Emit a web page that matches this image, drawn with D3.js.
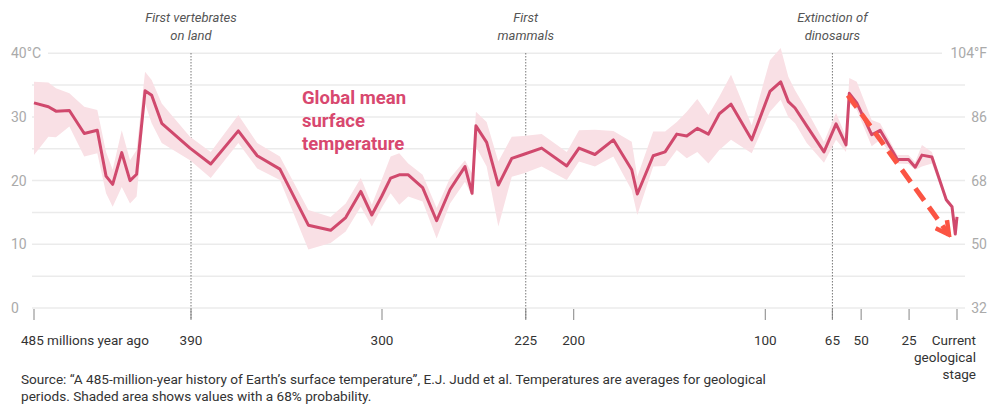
<!DOCTYPE html>
<html lang="en">
  <head>
    <meta charset="UTF-8" />
    <title>Global mean surface temperature</title>
    <script src="https://cdn.jsdelivr.net/npm/d3@7"></script>
    <style>
      body {
        margin: 0;
        padding: 0;
        background: #fff;
        font-family: Roboto, "Open Sans", sans-serif;
      }
      .grid line {
        stroke: #ebebeb;
        stroke-width: 1.5;
      }
      .ylab {
        fill: #aaa;
        font-size: 14px;
      }
      .xlab {
        fill: #333;
        font-size: 13.5px;
      }
      .event {
        fill: #555;
        font-size: 13px;
        font-style: italic;
      }
      .source {
        fill: #333;
        font-size: 13.6px;
      }
    </style>
  </head>
  <body>
    <svg id="chart"></svg>
    <script>
      // millions of years ago, one value per geological stage
      const ages = [
        485, 476.3, 471.7, 463.6, 454.6, 446.7, 441.4, 437.4, 431.9, 426.9,
        422.9, 417.8, 413.8, 407.7, 390.6, 380.7, 367.7, 358.8, 348.1, 334.7,
        324.2, 317.1, 310, 304.8, 300.2, 295.5, 291, 286.3, 278.8, 271.5,
        264.5, 256.7, 253, 251, 245.4, 239.3, 232.3, 226.3, 216.7, 203.6,
        197.2, 188.9, 179.3, 169.7, 166.8, 158.5, 152.3, 146.2, 141, 135.5,
        129.7, 124, 117.9, 107.1, 97.6, 92, 88, 84.5, 78.4, 69.4,
        63.1, 57.9, 56.2, 52.3, 44.5, 40.1, 31.1, 25.3, 21.8, 18.3,
        13.1, 5.6, 2.6, 0.9, 0
      ];
      // mean temperature, °C
      const temps = [
        32.2, 31.6, 30.9, 31.0, 27.4, 27.9, 20.7, 19.4, 24.4, 20.0,
        21.0, 34.1, 33.4, 29.0, 25.1, 22.6, 27.8, 23.9, 21.8, 13.0,
        12.2, 14.2, 18.3, 14.6, 17.5, 20.4, 20.9, 20.9, 18.9, 13.7,
        18.6, 22.2, 18.0, 28.6, 26.0, 19.3, 23.5, 24.1, 25.1, 22.3,
        25.1, 24.1, 26.4, 21.7, 17.9, 23.9, 24.5, 27.3, 27.0, 28.2,
        27.3, 30.5, 32.0, 26.4, 34.0, 35.5, 32.4, 31.4, 28.6, 24.5,
        28.9, 25.6, 33.7, 32.2, 27.2, 27.9, 23.3, 23.3, 22.1, 24.0,
        23.7, 17.0, 15.9, 11.6, 14.3
      ];
      // 68% range, °C
      const tempLow = [
        24.0, 26.9, 26.8, 28.5, 23.8, 24.3, 18.0, 15.9, 19.0, 16.4,
        17.5, 32.1, 29.0, 25.9, 23.2, 20.4, 25.9, 21.9, 20.1, 9.2,
        10.2, 12.0, 15.9, 12.8, 15.7, 18.0, 16.2, 17.5, 16.7, 10.9,
        16.4, 19.8, 17.5, 25.3, 22.2, 12.8, 20.6, 21.1, 22.2, 20.1,
        23.0, 22.2, 23.8, 18.5, 14.6, 22.2, 22.3, 24.8, 23.5, 24.5,
        22.7, 24.8, 26.4, 24.3, 30.8, 32.7, 30.0, 29.0, 25.9, 22.8,
        26.4, 24.5, 32.1, 31.1, 25.4, 26.4, 22.7, 22.6, 21.7, 22.2,
        22.7, 16.6, 15.7, 11.3, 14.0
      ];
      const tempHigh = [
        35.5, 35.4, 34.5, 33.7, 31.6, 31.1, 24.5, 21.7, 27.9, 23.2,
        24.8, 37.1, 35.8, 32.1, 26.9, 24.5, 30.3, 25.9, 23.8, 15.4,
        14.3, 16.4, 20.4, 16.2, 20.1, 23.8, 24.3, 22.7, 20.9, 15.7,
        20.4, 23.2, 21.1, 30.8, 29.2, 23.0, 26.9, 27.0, 27.3, 24.5,
        27.9, 28.0, 27.8, 26.1, 20.6, 27.7, 27.7, 29.2, 30.8, 32.8,
        30.3, 33.2, 36.6, 28.7, 38.9, 40.8, 36.3, 34.2, 31.1, 26.1,
        30.6, 26.9, 36.1, 35.5, 29.5, 29.0, 24.0, 24.0, 22.9, 25.6,
        24.5, 17.3, 16.2, 11.9, 14.6
      ];

      const xTicks = [485, 390, 300, 225, 200, 100, 65, 50, 25, 0];
      const xTickLabels = ["485 millions year ago", "390", "300", "225", "200", "100", "65", "50", "25", "Current"];
      const yTicksC = [0, 10, 20, 30, 40];
      const yLabelsC = ["0", "10", "20", "30", "40°C"];
      const yLabelsF = ["32", "50", "68", "86", "104°F"];

      const eventAges = [390, 225, 65];
      const eventLabels = [
        ["First vertebrates", "on land"],
        ["First", "mammals"],
        ["Extinction of", "dinosaurs"]
      ];

      // cooling trend arrow, [age, °C]
      const arrowFrom = [56.9, 33.4];
      const arrowTo = [4.2, 11.5];

      const width = 989;
      const height = 405;

      const svg = d3.select("#chart").attr("width", width).attr("height", height);

      // the original axis is not quite linear before 300 Ma
      const x = d3.scaleLinear().domain([485, 390, 300, 0]).range([34, 191, 382, 957]);
      const y = d3.scaleLinear().domain([0, 40]).range([308, 53.2]);

      const data = ages.map((a, i) => ({ age: a, t: temps[i], lo: tempLow[i], hi: tempHigh[i] }));

      // gridlines every 5 degrees
      const grid = svg.append("g").attr("class", "grid");
      grid
        .selectAll("line")
        .data(d3.range(0, 41, 5))
        .enter()
        .append("line")
        .attr("x1", (d) => (d == 40 ? 48 : 32))
        .attr("x2", (d) => (d == 40 ? 942 : 965))
        .attr("y1", (d) => y(d))
        .attr("y2", (d) => y(d));

      svg
        .selectAll(".ylabL")
        .data(yTicksC)
        .enter()
        .append("text")
        .attr("class", "ylab")
        .attr("x", 11)
        .attr("y", (d) => y(d))
        .attr("dy", "0.35em")
        .text((d, i) => yLabelsC[i]);

      svg
        .selectAll(".ylabR")
        .data(yTicksC)
        .enter()
        .append("text")
        .attr("class", "ylab")
        .attr("x", 987)
        .attr("y", (d) => y(d))
        .attr("dy", "0.35em")
        .attr("text-anchor", "end")
        .text((d, i) => yLabelsF[i]);

      // x ticks
      svg
        .selectAll(".xtick")
        .data(xTicks)
        .enter()
        .append("line")
        .attr("x1", (d) => x(d))
        .attr("x2", (d) => x(d))
        .attr("y1", 309)
        .attr("y2", 320)
        .attr("stroke", "#999")
        .attr("stroke-width", 1.2);

      svg
        .selectAll(".xlab")
        .data(xTicks)
        .enter()
        .append("text")
        .attr("class", "xlab")
        .attr("x", (d, i) => (i == 0 ? 21 : i == xTicks.length - 1 ? 976 : x(d)))
        .attr("y", 345)
        .attr("text-anchor", (d, i) => (i == 0 ? "start" : i == xTicks.length - 1 ? "end" : "middle"))
        .text((d, i) => xTickLabels[i]);

      const cur = svg.append("text").attr("class", "xlab").attr("text-anchor", "end");
      cur.append("tspan").attr("x", 976).attr("y", 362).text("geological");
      cur.append("tspan").attr("x", 976).attr("y", 379).text("stage");

      // event markers
      svg
        .selectAll(".eventline")
        .data(eventAges)
        .enter()
        .append("line")
        .attr("x1", (d) => x(d))
        .attr("x2", (d) => x(d))
        .attr("y1", 53)
        .attr("y2", 320)
        .attr("stroke", "#777")
        .attr("stroke-width", 1)
        .attr("stroke-dasharray", "1.5,1.5");

      eventAges.forEach((a, i) => {
        const t = svg.append("text").attr("class", "event").attr("text-anchor", "middle");
        eventLabels[i].forEach((s, j) => {
          t.append("tspan").attr("x", x(a)).attr("y", 22 + j * 18).text(s);
        });
      });

      // uncertainty band
      const area = d3
        .area()
        .x((d) => x(d.age))
        .y0((d) => y(d.lo))
        .y1((d) => y(d.hi));

      svg.append("path").datum(data).attr("d", area).attr("fill", "#f9e0e5");

      const line = d3
        .line()
        .x((d) => x(d.age))
        .y((d) => y(d.t));

      svg
        .append("path")
        .datum(data)
        .attr("d", line)
        .attr("fill", "none")
        .attr("stroke", "#d0496d")
        .attr("stroke-width", 3)
        .attr("stroke-linejoin", "round");

      // series label
      const lab = svg
        .append("text")
        .attr("fill", "#d8486f")
        .attr("font-weight", "bold")
        .attr("font-size", "18.5px");
      ["Global mean", "surface", "temperature"].forEach((s, j) => {
        lab.append("tspan").attr("x", 302).attr("y", 104 + j * 23).text(s);
      });

      // trend arrow
      svg
        .append("defs")
        .append("marker")
        .attr("id", "head")
        .attr("viewBox", "0 0 18 18")
        .attr("refX", 15)
        .attr("refY", 9)
        .attr("markerWidth", 18)
        .attr("markerHeight", 18)
        .attr("markerUnits", "userSpaceOnUse")
        .attr("orient", "auto")
        .append("path")
        .attr("d", "M2,2 L15,9 L2,16")
        .attr("fill", "none")
        .attr("stroke", "#fb5443")
        .attr("stroke-width", 4.5);

      svg
        .append("line")
        .attr("x1", x(arrowFrom[0]))
        .attr("y1", y(arrowFrom[1]))
        .attr("x2", x(arrowTo[0]))
        .attr("y2", y(arrowTo[1]))
        .attr("stroke", "#fb5443")
        .attr("stroke-width", 5)
        .attr("stroke-dasharray", "15,8")
        .attr("marker-end", "url(#head)");

      // source note
      const src = svg.append("text").attr("class", "source");
      src
        .append("tspan")
        .attr("x", 21)
        .attr("y", 384)
        .text("Source: “A 485-million-year history of Earth’s surface temperature”, E.J. Judd et al. Temperatures are averages for geological");
      src
        .append("tspan")
        .attr("x", 21)
        .attr("y", 401)
        .text("periods. Shaded area shows values with a 68% probability.");
    </script>
  </body>
</html>
